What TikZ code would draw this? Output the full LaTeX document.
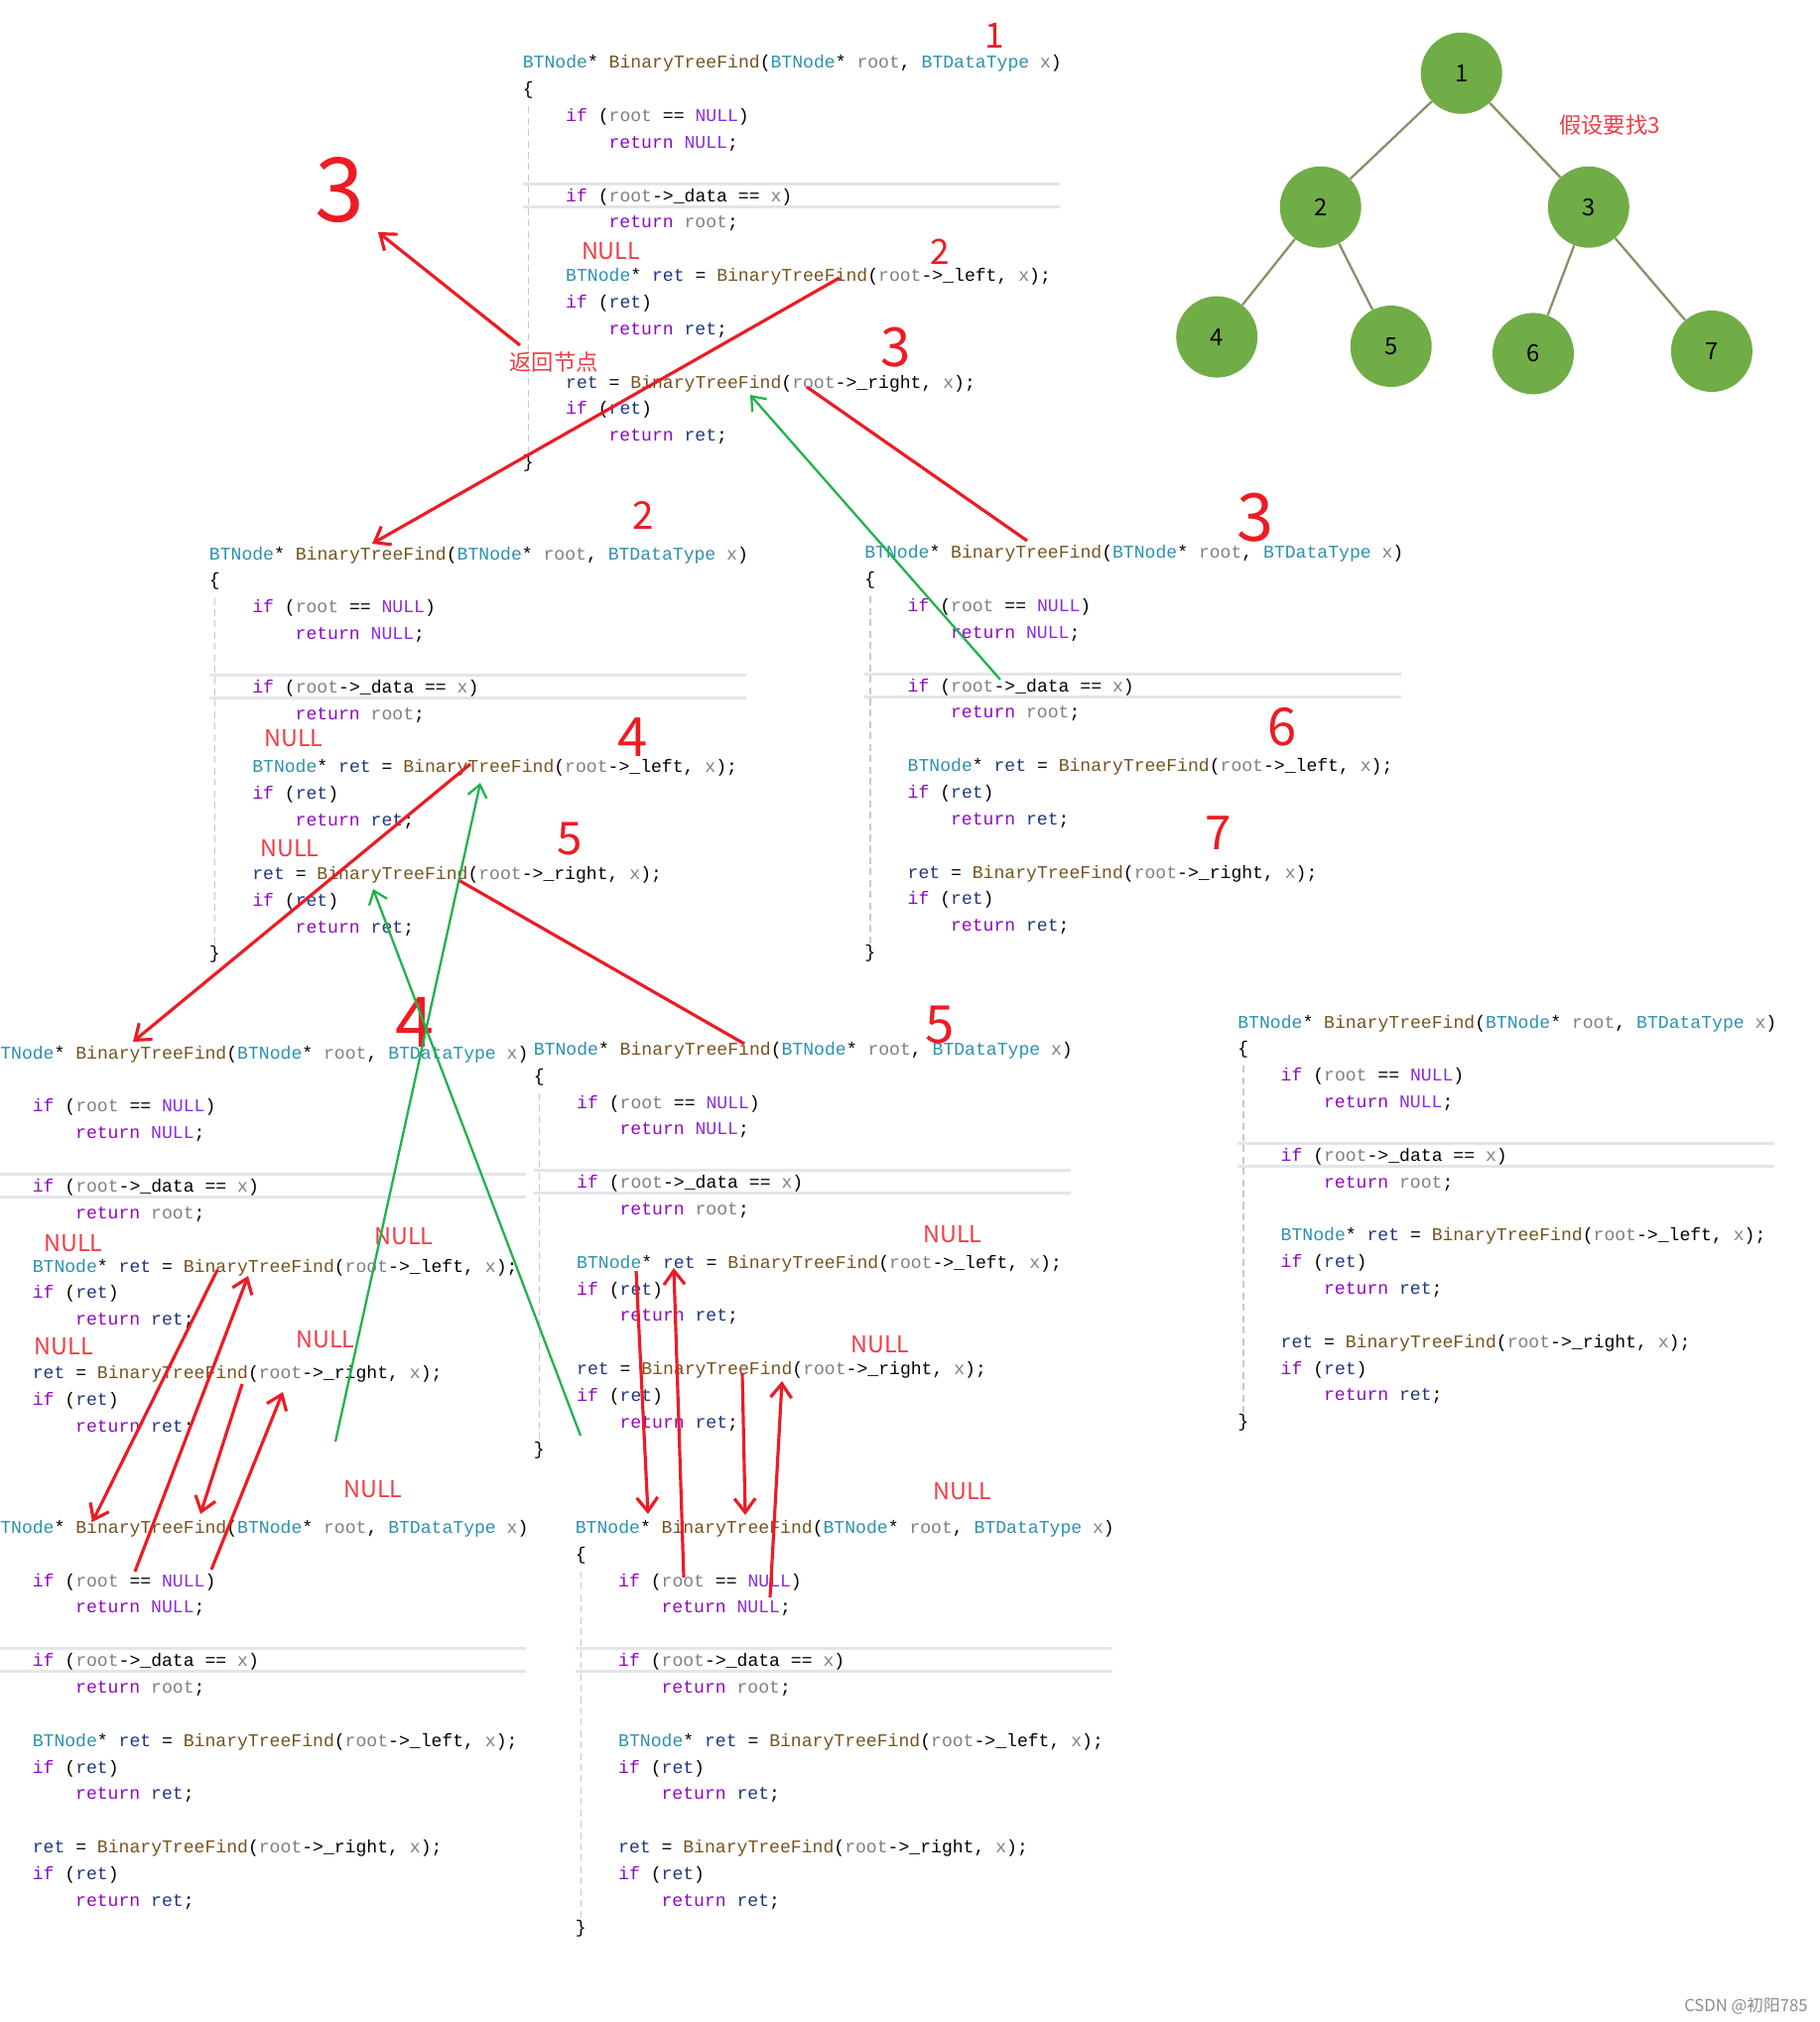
\documentclass[tikz,border=0pt]{standalone}
\usepackage{fontspec}
\setmonofont{Liberation Mono}
\newfontfamily\cjk{Noto Sans CJK SC}
\usetikzlibrary{arrows.meta}

\definecolor{cTypeC}{RGB}{43,145,175}
\definecolor{cFuncC}{RGB}{116,83,31}
\definecolor{cParamC}{RGB}{128,128,128}
\definecolor{cKeyC}{RGB}{143,8,196}
\definecolor{cMacroC}{RGB}{138,43,226}
\definecolor{cLocalC}{RGB}{31,55,127}
\definecolor{annoRed}{RGB}{236,28,36}
\definecolor{labelRed}{RGB}{240,60,70}
\definecolor{annoGreen}{RGB}{34,177,76}
\definecolor{treeGreen}{RGB}{112,173,71}
\definecolor{edgeOlive}{RGB}{135,145,105}
\definecolor{sepGray}{RGB}{228,228,236}
\definecolor{guideGray}{RGB}{200,200,200}

\newcommand{\ctype}[1]{\textcolor{cTypeC}{#1}}
\newcommand{\cfunc}[1]{\textcolor{cFuncC}{#1}}
\newcommand{\cparam}[1]{\textcolor{cParamC}{#1}}
\newcommand{\ckey}[1]{\textcolor{cKeyC}{#1}}
\newcommand{\cmacro}[1]{\textcolor{cMacroC}{#1}}
\newcommand{\clocal}[1]{\textcolor{cLocalC}{#1}}
\newcommand{\codeLH}{26.85}
\newcommand{\codeCW}{10.84}

\tikzset{
    codeLine/.style={anchor=mid west, inner sep=0pt, yshift=-1.5pt, font=\ttfamily\fontsize{10.3}{12}\selectfont},
    sepLine/.style={draw=sepGray, line width=1.7pt},
    guideLine/.style={draw=guideGray, line width=0.8pt, dash pattern=on 4pt off 2.5pt},
    treeNode/.style={circle, fill=treeGreen, minimum size=1.64cm, inner sep=0pt, font=\cjk\fontsize{13.5}{16}\selectfont},
    treeLink/.style={draw=edgeOlive, line width=1.3pt},
    nullLabel/.style={text=labelRed, inner sep=0pt, font=\cjk\fontsize{13.3}{15}\selectfont},
    noteLabel/.style={text=labelRed, inner sep=0pt, font=\cjk\fontsize{12.7}{15}\selectfont},
    handNum/.style={text=annoRed, inner sep=0pt, font=\cjk\fontsize{#1}{#1}\selectfont},
    redArrow/.style={draw=annoRed, line width=1.8pt, -{Straight Barb[length=8pt,width=12pt]}},
    redLine/.style={draw=annoRed, line width=1.8pt},
    greenArrow/.style={draw=annoGreen, line width=1.3pt, -{Straight Barb[length=7pt,width=11pt]}}
}

% one copy of the function, #1 name, #2 #3 left end of the first line
\newcommand{\codeblock}[3]{%
  \begin{scope}[shift={(#2,#3)}]
    \draw[sepLine] (0,5*\codeLH-11.5) -- (541,5*\codeLH-11.5);
    \draw[sepLine] (0,5*\codeLH+11.5) -- (541,5*\codeLH+11.5);
    \draw[guideLine] (6,1.67*\codeLH) -- (6,14.7*\codeLH);
    \node[codeLine] (#1-0) at (0,0) {\ctype{BTNode}* \cfunc{BinaryTreeFind}(\ctype{BTNode}* \cparam{root}, \ctype{BTDataType} \cparam{x})};
    \node[codeLine] (#1-1) at (0,\codeLH) {\{};
    \node[codeLine] (#1-2) at (4*\codeCW,2*\codeLH) {\ckey{if} (\cparam{root} == \cmacro{NULL})};
    \node[codeLine] (#1-3) at (8*\codeCW,3*\codeLH) {\ckey{return} \cmacro{NULL};};
    \node[codeLine] (#1-5) at (4*\codeCW,5*\codeLH) {\ckey{if} (\cparam{root}->\_data == \cparam{x})};
    \node[codeLine] (#1-6) at (8*\codeCW,6*\codeLH) {\ckey{return} \cparam{root};};
    \node[codeLine] (#1-8) at (4*\codeCW,8*\codeLH) {\ctype{BTNode}* \clocal{ret} = \cfunc{BinaryTreeFind}(\cparam{root}->\_left, \cparam{x});};
    \node[codeLine] (#1-9) at (4*\codeCW,9*\codeLH) {\ckey{if} (\clocal{ret})};
    \node[codeLine] (#1-10) at (8*\codeCW,10*\codeLH) {\ckey{return} \clocal{ret};};
    \node[codeLine] (#1-12) at (4*\codeCW,12*\codeLH) {\clocal{ret} = \cfunc{BinaryTreeFind}(\cparam{root}->\_right, \cparam{x});};
    \node[codeLine] (#1-13) at (4*\codeCW,13*\codeLH) {\ckey{if} (\clocal{ret})};
    \node[codeLine] (#1-14) at (8*\codeCW,14*\codeLH) {\ckey{return} \clocal{ret};};
    \node[codeLine] (#1-15) at (0,15*\codeLH) {\}};
  \end{scope}}

\begin{document}
\begin{tikzpicture}[x=0.02cm, y=-0.02cm]
    \useasboundingbox (0,0) rectangle (1833,2038);
    \clip (0,0) rectangle (1833,2038);
    \fill[white] (0,0) rectangle (1833,2038);

    % the recursive calls
    \codeblock{A}{526.5}{62.4}
    \codeblock{B}{210.6}{557.7}
    \codeblock{C}{871}{556.4}
    \codeblock{D}{-10.9}{1060.8}
    \codeblock{E}{537.5}{1057}
    \codeblock{F}{1247}{1029.6}
    \codeblock{G}{-10.9}{1539}
    \codeblock{H}{579.5}{1539}

    % the tree
    \node (t1) [treeNode] at (1472.7,73.8) {1};
    \node (t2) [treeNode] at (1330.7,208.7) {2};
    \node (t3) [treeNode] at (1600.8,208.7) {3};
    \node (t4) [treeNode] at (1226.2,339.6) {4};
    \node (t5) [treeNode] at (1401.7,349) {5};
    \node (t6) [treeNode] at (1545,356.4) {6};
    \node (t7) [treeNode] at (1724.9,354) {7};

    \draw[treeLink] (t1) -- (t2);
    \draw[treeLink] (t1) -- (t3);
    \draw[treeLink] (t2) -- (t4);
    \draw[treeLink] (t2) -- (t5);
    \draw[treeLink] (t3) -- (t6);
    \draw[treeLink] (t3) -- (t7);

    \node (find3) [noteLabel] at (1622,126) {假设要找3};
    \node (retnode) [noteLabel] at (558,365) {返回节点};

    % NULL notes
    \node (null1) [nullLabel] at (615.6,253.5) {NULL};
    \node (null2) [nullLabel] at (296,744) {NULL};
    \node (null3) [nullLabel] at (292,855) {NULL};
    \node (null4) [nullLabel] at (74,1253) {NULL};
    \node (null5) [nullLabel] at (64.5,1357) {NULL};
    \node (null6) [nullLabel] at (407,1246) {NULL};
    \node (null7) [nullLabel] at (328,1350) {NULL};
    \node (null8) [nullLabel] at (376,1501) {NULL};
    \node (null9) [nullLabel] at (960,1244) {NULL};
    \node (null10) [nullLabel] at (887,1355) {NULL};
    \node (null11) [nullLabel] at (970,1503.5) {NULL};

    % step numbers
    \node (s1) [handNum=20] at (1002,36) {1};
    \node (s2) [handNum=51] at (342,192) {3};
    \node (s3) [handNum=20] at (947,254) {2};
    \node (s4) [handNum=31] at (903,350) {3};
    \node (s5) [handNum=22] at (648,519) {2};
    \node (s6) [handNum=38] at (1265,522) {3};
    \node (s7) [handNum=31] at (638,743) {4};
    \node (s8) [handNum=30] at (1292,733) {6};
    \node (s9) [handNum=26] at (574,846) {5};
    \node (s10) [handNum=27] at (1228,840) {7};
    \node (s11) [handNum=40] at (418,1030) {4};
    \node (s12) [handNum=30] at (947,1033) {5};

    \node (wmark) [anchor=east, inner sep=0pt, text=black!45, font=\cjk\fontsize{9.5}{11}\selectfont] at (1822,2022) {CSDN @初阳785};

    % end points of the hand drawn arrows
    \coordinate (r1a) at (524,348);   \coordinate (r1b) at (381,234);
    \coordinate (r2a) at (846,280);   \coordinate (r2b) at (375,548);
    \coordinate (r3a) at (813,390);   \coordinate (r3b) at (1035,545);
    \coordinate (r4a) at (474,770);   \coordinate (r4b) at (134,1050);
    \coordinate (r5a) at (462,887);   \coordinate (r5b) at (750,1052);
    \coordinate (r6a) at (219,1280);  \coordinate (r6b) at (93,1534);
    \coordinate (r7a) at (136,1584);  \coordinate (r7b) at (250,1286);
    \coordinate (r8a) at (244,1395);  \coordinate (r8b) at (202,1526);
    \coordinate (r9a) at (213,1582);  \coordinate (r9b) at (285,1403);
    \coordinate (r10a) at (641,1281); \coordinate (r10b) at (653,1526);
    \coordinate (r11a) at (689,1590); \coordinate (r11b) at (679,1278);
    \coordinate (r12a) at (748,1384); \coordinate (r12b) at (751,1527);
    \coordinate (r13a) at (776,1610); \coordinate (r13b) at (788,1392);
    \coordinate (g1a) at (585,1447);  \coordinate (g1b) at (376,896);
    \coordinate (g2a) at (338,1453);  \coordinate (g2b) at (484,789);
    \coordinate (g3a) at (1008,685);  \coordinate (g3b) at (756,398);

    \draw[redArrow] (r1a) -- (r1b);
    \draw[redArrow] (r2a) -- (r2b);
    \draw[redLine] (r3a) -- (r3b);
    \draw[redArrow] (r4a) -- (r4b);
    \draw[redLine] (r5a) -- (r5b);
    \draw[redArrow] (r6a) -- (r6b);
    \draw[redArrow] (r7a) -- (r7b);
    \draw[redArrow] (r8a) -- (r8b);
    \draw[redArrow] (r9a) -- (r9b);
    \draw[redArrow] (r10a) -- (r10b);
    \draw[redArrow] (r11a) -- (r11b);
    \draw[redArrow] (r12a) -- (r12b);
    \draw[redArrow] (r13a) -- (r13b);

    \draw[greenArrow] (g1a) -- (g1b);
    \draw[greenArrow] (g2a) -- (g2b);
    \draw[greenArrow] (g3a) -- (g3b);

\end{tikzpicture}
\end{document}
